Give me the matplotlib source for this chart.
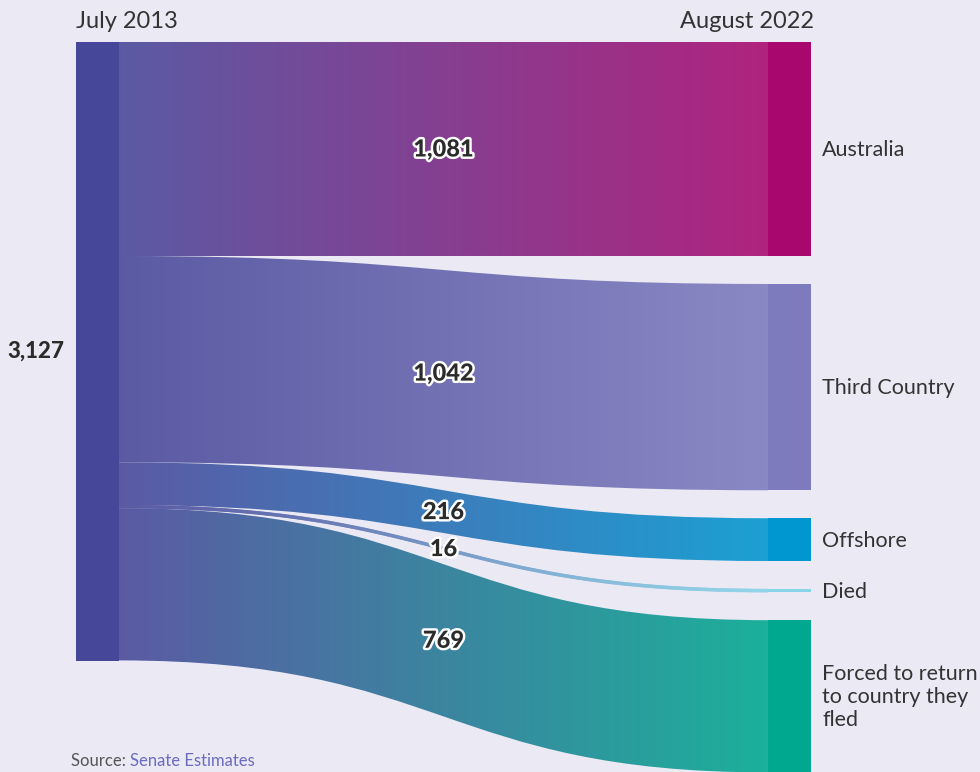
import matplotlib
matplotlib.use("Agg")
import matplotlib.pyplot as plt
import numpy as np
from matplotlib.path import Path
from matplotlib.patches import PathPatch, Rectangle
from matplotlib.colors import to_rgb
import matplotlib.patheffects as pe

# ---------------- data ----------------
source_label = "July 2013"
target_header = "August 2022"
total = 3127
categories = ["Australia", "Third Country", "Offshore", "Died",
              "Forced to return\nto country they\nfled"]
values = [1081, 1042, 216, 16, 769]
value_labels = ["1,081", "1,042", "216", "16", "769"]
node_colors = ["#A8086E", "#7D7BBD", "#0096CF", "#88D3E8", "#00A88F"]
source_color = "#474799"
bg = "#EBE9F4"

# ---------------- layout ----------------
W, H = 980, 772
fig = plt.figure(figsize=(W / 100, H / 100), dpi=100, facecolor=bg)
ax = fig.add_axes([0, 0, 1, 1])
ax.set_xlim(0, W)
ax.set_ylim(H, 0)
ax.axis("off")
ax.set_facecolor(bg)

FONT = "Lato"
x_left0, x_left1 = 76, 119
x_right0, x_right1 = 768, 811
y_top = 42
scale = 619 / total
gap = 28

# left node
ax.add_patch(Rectangle((x_left0, y_top), x_left1 - x_left0, total * scale,
                       facecolor=source_color, edgecolor="none", zorder=3))

bg_rgb = np.array(to_rgb(bg))
alpha = 0.88


def flow_path(x0, x1, yl0, yl1, yr0, yr1):
    xm = (x0 + x1) / 2
    verts = [(x0, yl0), (xm, yl0), (xm, yr0), (x1, yr0),
             (x1, yr1), (xm, yr1), (xm, yl1), (x0, yl1), (x0, yl0)]
    codes = [Path.MOVETO, Path.CURVE4, Path.CURVE4, Path.CURVE4,
             Path.LINETO, Path.CURVE4, Path.CURVE4, Path.CURVE4, Path.CLOSEPOLY]
    return Path(verts, codes)


yl = y_top
yr = y_top
for cat, v, lab, col in zip(categories, values, value_labels, node_colors):
    h = v * scale
    yl0, yl1 = yl, yl + h
    yr0, yr1 = yr, yr + h
    # gradient flow
    path = flow_path(x_left1, x_right0, yl0, yl1, yr0, yr1)
    patch = PathPatch(path, facecolor="none", edgecolor="none")
    ax.add_patch(patch)
    c0 = np.array(to_rgb(source_color)) * alpha + bg_rgb * (1 - alpha)
    c1 = np.array(to_rgb(col)) * alpha + bg_rgb * (1 - alpha)
    t = np.linspace(0, 1, 256)
    grad = (c0[None, :] * (1 - t[:, None]) + c1[None, :] * t[:, None])[None, :, :]
    ymin = min(yl0, yr0) - 2
    ymax = max(yl1, yr1) + 2
    im = ax.imshow(grad, extent=(x_left1, x_right0, ymax, ymin), aspect="auto",
                   interpolation="bilinear", zorder=2)
    im.set_clip_path(patch)
    if v < 30:
        # thin flow: draw as a line too for visibility
        xs = np.linspace(0, 1, 200)
        P0 = np.array([x_left1, (yl0 + yl1) / 2])
        P3 = np.array([x_right0, (yr0 + yr1) / 2])
        xm = (x_left1 + x_right0) / 2
        P1 = np.array([xm, P0[1]])
        P2 = np.array([xm, P3[1]])
        B = ((1 - xs) ** 3)[:, None] * P0 + (3 * (1 - xs) ** 2 * xs)[:, None] * P1 \
            + (3 * (1 - xs) * xs ** 2)[:, None] * P2 + (xs ** 3)[:, None] * P3
        for i in range(len(xs) - 1):
            cc = c0 * (1 - xs[i]) + c1 * xs[i]
            ax.plot(B[i:i + 2, 0], B[i:i + 2, 1], color=cc, lw=2.6,
                    solid_capstyle="butt", zorder=2)
    # right node
    ax.add_patch(Rectangle((x_right0, yr0), x_right1 - x_right0, max(h, 3),
                           facecolor=col, edgecolor="none", zorder=3))
    # flow label
    ax.text((x_left1 + x_right0) / 2, ((yl0 + yl1) / 2 + (yr0 + yr1) / 2) / 2, lab,
            ha="center", va="center", fontsize=17, fontweight="black",
            family=FONT, color="#2B2B2B", zorder=5,
            path_effects=[pe.withStroke(linewidth=3.5, foreground="white")])
    # category label
    ax.text(822, (yr0 + yr1) / 2 + 1, cat, ha="left", va="center", fontsize=15.5,
            family=FONT, color="#333333", linespacing=1.2, zorder=5)
    yl += h
    yr += h + gap

# headers
ax.text(x_left0, 22, source_label, ha="left", va="center", fontsize=17,
        family=FONT, color="#333333")
ax.text(x_right1 + 3, 22, target_header, ha="right", va="center", fontsize=17,
        family=FONT, color="#333333")
# total
ax.text(64, y_top + total * scale / 2, f"{total:,}", ha="right", va="center",
        fontsize=16, fontweight="black", family=FONT, color="#2B2B2B")

# source
t1 = ax.text(71, 769, "Source: ", ha="left", va="bottom", fontsize=12,
             family=FONT, color="#555555")
ax.annotate("Senate Estimates", xy=(1, 0), xycoords=t1, ha="left", va="bottom",
            fontsize=12, family=FONT, color="#6B6BBF")

fig.savefig("out.png", dpi=100, facecolor=bg)
